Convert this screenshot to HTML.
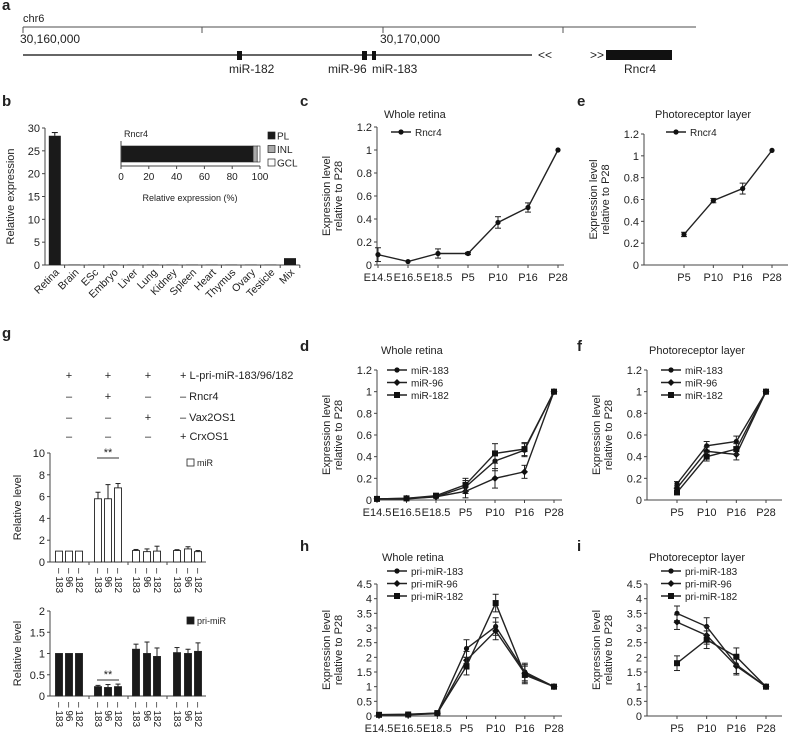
<!DOCTYPE html>
<html><head><meta charset="utf-8"><style>
body{margin:0;background:#fff}
svg{display:block;font-family:"Liberation Sans",Arial,sans-serif}
</style></head><body>
<svg id="fig" width="788" height="735" viewBox="0 0 788 735" xmlns="http://www.w3.org/2000/svg">
<g fill="#222" font-size="12">
<text x="2" y="10" font-size="15" font-weight="bold">a</text>
<text x="23" y="22" font-size="11">chr6</text>
<line x1="23" y1="27" x2="696" y2="27" stroke="#888" stroke-width="1.5"/>
<line x1="23" y1="27" x2="23" y2="33" stroke="#555"/><line x1="202" y1="27" x2="202" y2="33" stroke="#555"/>
<line x1="383" y1="27" x2="383" y2="33" stroke="#555"/><line x1="563" y1="27" x2="563" y2="33" stroke="#555"/>
<text x="20" y="43" font-size="12">30,160,000</text>
<text x="380" y="43" font-size="12">30,170,000</text>
<line x1="23" y1="55" x2="532" y2="55" stroke="#333" stroke-width="1.5"/>
<text x="538" y="59" font-size="12">&lt;&lt;</text>
<text x="590" y="59" font-size="12">&gt;&gt;</text>
<rect x="237" y="51" width="5" height="9" fill="#111"/>
<rect x="362" y="51" width="5" height="9" fill="#111"/>
<rect x="372" y="51" width="4" height="9" fill="#111"/>
<rect x="606" y="50" width="66" height="10" fill="#111"/>
<text x="229" y="73">miR-182</text>
<text x="328" y="73">miR-96</text>
<text x="372" y="73">miR-183</text>
<text x="624" y="73">Rncr4</text>
</g>
<g id="panels" fill="#222"></g>
</svg>
<script>
// ---------- data ----------
const bCats=["Retina","Brain","ESc","Embryo","Liver","Lung","Kidney","Spleen","Heart","Thymus","Ovary","Testicle","Mix"];
const bVals=[28.3,0.1,0.1,0.1,0.1,0.1,0.1,0.1,0.1,0.1,0.1,0.1,1.5];
const bErr=[0.7,0,0,0,0,0,0,0,0,0,0,0,0];
const bTicks=[0,5,10,15,20,25,30];
const insetLayers=["PL","INL","GCL"];
const insetVals=[95,3,2];
const insetTicks=[0,20,40,60,80,100];
const embTime=["E14.5","E16.5","E18.5","P5","P10","P16","P28"];
const postTime=["P5","P10","P16","P28"];
const ticks12=[0,0.2,0.4,0.6,0.8,1,1.2];
const ticks45=[0,0.5,1,1.5,2,2.5,3,3.5,4,4.5];
const cRncr4=[0.09,0.03,0.1,0.1,0.37,0.5,1.0];
const cRncr4Err=[0.06,0,0.04,0.01,0.05,0.04,0];
const eRncr4=[0.28,0.59,0.7,1.05];
const eRncr4Err=[0.02,0.02,0.05,0];
const dMir183=[0.01,0.01,0.03,0.12,0.36,0.46,1];
const dMir96=[0.01,0.015,0.03,0.08,0.2,0.26,1];
const dMir182=[0.01,0.015,0.04,0.14,0.43,0.47,1];
const dErr=[0.005,0.005,0.01,0.06,0.09,0.06,0];
const fMir183=[0.15,0.5,0.54,1];
const fMir96=[0.11,0.45,0.42,1];
const fMir182=[0.07,0.4,0.47,1];
const fErr=[0.02,0.04,0.05,0];
const hPri183=[0.05,0.06,0.1,2.3,3.05,1.5,1];
const hPri96=[0.03,0.04,0.08,1.9,2.9,1.45,1];
const hPri182=[0.04,0.05,0.1,1.7,3.85,1.4,1];
const hErr=[0.03,0.03,0.03,0.3,0.3,0.3,0];
const iPri183=[3.5,3.05,1.75,1];
const iPri96=[3.2,2.75,1.7,1];
const iPri182=[1.8,2.6,2.02,1];
const iErr=[0.25,0.3,0.3,0];
const gMiR=[1,1,1,5.8,5.8,6.8,1.05,0.95,1.0,1.05,1.2,0.95];
const gMiRErr=[0,0,0,0.6,1.3,0.4,0.1,0.25,0.45,0.08,0.2,0.1];
const gPri=[1,1,1,0.22,0.2,0.22,1.1,1.0,0.93,1.02,1.0,1.05];
const gPriErr=[0,0,0,0.03,0.07,0.06,0.12,0.27,0.2,0.12,0.1,0.2];
const gBarLabels=["183","96","182","183","96","182","183","96","182","183","96","182"];
const gTicksTop=[0,2,4,6,8,10];
const gTicksBot=[0,0.5,1,1.5,2];
const gRows=["L-pri-miR-183/96/182","Rncr4","Vax2OS1","CrxOS1"];
const gSigns=[["+","+","+","+"],["–","+","–","–"],["–","–","+","–"],["–","–","–","+"]];

// ---------- helpers ----------
const NS="http://www.w3.org/2000/svg";
const root=document.getElementById('panels');
function mk(tag,attrs,parent,txt){const e=document.createElementNS(NS,tag);for(const k in attrs)e.setAttribute(k,attrs[k]);if(txt!==undefined)e.textContent=txt;(parent||root).appendChild(e);return e;}
function grp(name){const g=mk('g',{});return g;}
function txt(g,x,y,s,size,anchor,name,extra){const t=mk('text',Object.assign({x:x,y:y,'font-size':size||11,'text-anchor':anchor||'start'},extra||{}),g,s);return t;}
function marker(g,x,y,type){
 if(type==='sq')mk('rect',{x:x-3,y:y-3,width:6,height:6,fill:'#111'},g);
 else if(type==='dia')mk('polygon',{points:`${x},${y-3.5} ${x+3.5},${y} ${x},${y+3.5} ${x-3.5},${y}`,fill:'#111'},g);
 else mk('circle',{cx:x,cy:y,r:2.6,fill:'#111'},g);
}
function lineChart(o){
 const g=grp(o.name);
 const sy=v=>o.y0-(v/o.ymax)*(o.y0-o.ytop);
 const sx=i=>o.x0+i*(o.x1-o.x0)/(o.cats.length-1);
 mk('line',{x1:o.ax,y1:o.ytop,x2:o.ax,y2:o.y0,stroke:'#444'},g);
 mk('line',{x1:o.ax,y1:o.y0,x2:o.axEnd,y2:o.y0,stroke:'#444'},g);
 o.ticks.forEach(t=>{mk('line',{x1:o.ax-3,y1:sy(t),x2:o.ax,y2:sy(t),stroke:'#444'},g);
  txt(g,o.ax-5,sy(t)+4,String(t),11,'end','y-tick-label');});
 o.cats.forEach((c,i)=>{mk('line',{x1:sx(i),y1:o.y0,x2:sx(i),y2:o.y0+3,stroke:'#444'},g);
  txt(g,sx(i),o.y0+16,c,11,'middle','x-tick-label');});
 const yl=mk('text',{x:0,y:0,'font-size':11,'text-anchor':'middle',transform:`translate(${o.ax-47},${(o.y0+o.ytop)/2}) rotate(-90)`},g);
 
 mk('tspan',{x:0,dy:0},yl,'Expression level');mk('tspan',{x:0,dy:12},yl,'relative to P28');
 txt(g,o.tx,o.ty,o.title,11,'start','chart-title');
 txt(g,o.px,o.py,o.letter,15,'start','panel-letter',{'font-weight':'bold'});
 o.series.forEach((s,k)=>{
  const sg=mk('g',{},g);
  const pts=s.vals.map((v,i)=>sx(i)+','+sy(v)).join(' ');
  mk('polyline',{points:pts,fill:'none',stroke:'#222','stroke-width':1.4},sg);
  s.vals.forEach((v,i)=>{const e=s.err[i];if(e>0){const a=sy(v+e),b=sy(v-e);
   mk('line',{x1:sx(i),y1:a,x2:sx(i),y2:b,stroke:'#222'},sg);
   mk('line',{x1:sx(i)-3,y1:a,x2:sx(i)+3,y2:a,stroke:'#222'},sg);
   mk('line',{x1:sx(i)-3,y1:b,x2:sx(i)+3,y2:b,stroke:'#222'},sg);}
   marker(sg,sx(i),sy(v),s.m);});
  const ly=o.ly+k*12.5;
  const lg=mk('g',{},g);
  mk('line',{x1:o.lx,y1:ly,x2:o.lx+20,y2:ly,stroke:'#222','stroke-width':1.4},lg);marker(lg,o.lx+10,ly,s.m);
  txt(lg,o.lx+24,ly+4,s.label,10,'start','legend-label');
 });
}
lineChart({name:'panel-c',letter:'c',px:300,py:106,cats:embTime,ax:377,axEnd:564,x0:378,x1:558,y0:265,ytop:127,ymax:1.2,ticks:ticks12,title:'Whole retina',tx:384,ty:118,lx:391,ly:132,
 series:[{label:'Rncr4',vals:cRncr4,err:cRncr4Err,m:'dot'}]});
lineChart({name:'panel-e',letter:'e',px:577,py:106,cats:postTime,ax:644,axEnd:788,x0:684,x1:772,y0:265,ytop:134,ymax:1.2,ticks:ticks12,title:'Photoreceptor layer',tx:655,ty:118,lx:666,ly:132,
 series:[{label:'Rncr4',vals:eRncr4,err:eRncr4Err,m:'dot'}]});
lineChart({name:'panel-d',letter:'d',px:300,py:351,cats:embTime,ax:377,axEnd:562,x0:377,x1:554,y0:500,ytop:370,ymax:1.2,ticks:ticks12,title:'Whole retina',tx:381,ty:354,lx:387,ly:370,
 series:[{label:'miR-183',vals:dMir183,err:dErr,m:'dot'},{label:'miR-96',vals:dMir96,err:dErr,m:'dia'},{label:'miR-182',vals:dMir182,err:dErr,m:'sq'}]});
lineChart({name:'panel-f',letter:'f',px:577,py:351,cats:postTime,ax:647,axEnd:782,x0:677,x1:766,y0:500,ytop:370,ymax:1.2,ticks:ticks12,title:'Photoreceptor layer',tx:649,ty:354,lx:661,ly:370,
 series:[{label:'miR-183',vals:fMir183,err:fErr,m:'dot'},{label:'miR-96',vals:fMir96,err:fErr,m:'dia'},{label:'miR-182',vals:fMir182,err:fErr,m:'sq'}]});
lineChart({name:'panel-h',letter:'h',px:300,py:551,cats:embTime,ax:377,axEnd:562,x0:379,x1:554,y0:716,ytop:584,ymax:4.5,ticks:ticks45,title:'Whole retina',tx:382,ty:561,lx:387,ly:571,
 series:[{label:'pri-miR-183',vals:hPri183,err:hErr,m:'dot'},{label:'pri-miR-96',vals:hPri96,err:hErr,m:'dia'},{label:'pri-miR-182',vals:hPri182,err:hErr,m:'sq'}]});
lineChart({name:'panel-i',letter:'i',px:577,py:551,cats:postTime,ax:647,axEnd:782,x0:677,x1:766,y0:716,ytop:584,ymax:4.5,ticks:ticks45,title:'Photoreceptor layer',tx:649,ty:561,lx:661,ly:571,
 series:[{label:'pri-miR-183',vals:iPri183,err:iErr,m:'dot'},{label:'pri-miR-96',vals:iPri96,err:iErr,m:'dia'},{label:'pri-miR-182',vals:iPri182,err:iErr,m:'sq'}]});

// ---------- panel b ----------
(function(){
 const g=grp('panel-b');
 const ax=45,y0=265,ytop=128,ymax=30,step=19.6,bw=12;
 const sy=v=>y0-(v/ymax)*(y0-ytop);
 txt(g,2,106,'b',15,'start','panel-letter',{'font-weight':'bold'});
 mk('line',{x1:ax,y1:ytop,x2:ax,y2:y0,stroke:'#444'},g);
 mk('line',{x1:ax,y1:y0,x2:ax+step*bCats.length,y2:y0,stroke:'#444'},g);
 bTicks.forEach(t=>{mk('line',{x1:ax-3,y1:sy(t),x2:ax,y2:sy(t),stroke:'#444'},g);txt(g,ax-5,sy(t)+4,String(t),11,'end','y-tick-label');});
 txt(g,0,0,'Relative expression',11,'middle','y-axis-title',{transform:`translate(14,${(y0+ytop)/2}) rotate(-90)`});
 bCats.forEach((c,i)=>{const cx=ax+step*(i+0.5);
  mk('line',{x1:ax+step*(i+1),y1:y0,x2:ax+step*(i+1),y2:y0+3,stroke:'#444'},g);
  const r=mk('rect',{x:cx-bw/2,y:sy(bVals[i]),width:bw,height:y0-sy(bVals[i]),fill:'#1a1a1a'},g);
  
  if(bErr[i]>0){const a=sy(bVals[i]+bErr[i]);mk('line',{x1:cx,y1:a,x2:cx,y2:sy(bVals[i]),stroke:'#111'},g);mk('line',{x1:cx-3,y1:a,x2:cx+3,y2:a,stroke:'#111'},g);}
  txt(g,0,0,c,10.5,'end','x-tick-label',{transform:`translate(${cx+5},${y0+8}) rotate(-45)`});
 });
 const ix0=121,ix1=260,iy=146,ih=16;const sx=v=>ix0+v/100*(ix1-ix0);
 txt(g,124,137,'Rncr4',9,'start','inset-title');
 let acc=0;const fills=['#1a1a1a','#aaa','#fff'];
 insetVals.forEach((v,i)=>{const r=mk('rect',{x:sx(acc),y:iy,width:sx(acc+v)-sx(acc),height:ih,fill:fills[i],stroke:'#222','stroke-width':0.6},g);
  acc+=v;});
 mk('line',{x1:ix0,y1:iy-5,x2:ix0,y2:iy+ih+4,stroke:'#444'},g);
 mk('line',{x1:ix0,y1:iy+ih+4,x2:ix1,y2:iy+ih+4,stroke:'#444'},g);
 insetTicks.forEach(t=>{mk('line',{x1:sx(t),y1:iy+ih+4,x2:sx(t),y2:iy+ih+7,stroke:'#444'},g);txt(g,sx(t),iy+ih+18,String(t),10,'middle','inset-tick-label');});
 txt(g,190,201,'Relative expression (%)',9,'middle','inset-x-title');
 insetLayers.forEach((l,i)=>{const y=132+i*13.5;const lg=mk('g',{},g);
  mk('rect',{x:268,y:y,width:7,height:7,fill:fills[i],stroke:'#222','stroke-width':0.7},lg);txt(lg,277,y+7.5,l,10,'start','legend-label');});
})();

// ---------- panel g ----------
(function(){
 const g=grp('panel-g');
 txt(g,2,338,'g',15,'start','panel-letter',{'font-weight':'bold'});
 const colX=[69,108,148];const rowY=[379,400,421,440];
 gRows.forEach((r,ri)=>{gSigns[ri].slice(0,3).forEach((s,ci)=>txt(g,colX[ci],rowY[ri],s,11,'middle','condition-sign'));
  txt(g,180,rowY[ri],gSigns[ri][3]+' '+r,11,'start','condition-label');});
 const centers=[59,69,79,98,108,118,136,147,157,177,188,198];
 function bars(vals,errs,y0,ytop,ymax,ticks,fill,legend,name,sigY){
  const bg=grp(name);
  const sy=v=>y0-(v/ymax)*(y0-ytop);
  mk('line',{x1:50,y1:ytop,x2:50,y2:y0,stroke:'#444'},bg);
  mk('line',{x1:50,y1:y0,x2:206,y2:y0,stroke:'#444'},bg);
  [89,128,167].forEach(x=>mk('line',{x1:x,y1:y0,x2:x,y2:y0+3,stroke:'#444'},bg));
  ticks.forEach(t=>{mk('line',{x1:47,y1:sy(t),x2:50,y2:sy(t),stroke:'#444'},bg);txt(bg,45,sy(t)+4,String(t),11,'end','y-tick-label');});
  txt(bg,0,0,'Relative level',11,'middle','y-axis-title',{transform:`translate(21,${(y0+ytop)/2}) rotate(-90)`});
  vals.forEach((v,i)=>{const cx=centers[i];
   const r=mk('rect',{x:cx-3.5,y:sy(v),width:7,height:y0-sy(v),fill:fill,stroke:'#222','stroke-width':0.9},bg);
   
   if(errs[i]>0){const a=sy(v+errs[i]);mk('line',{x1:cx,y1:a,x2:cx,y2:sy(v),stroke:'#222'},bg);mk('line',{x1:cx-2.5,y1:a,x2:cx+2.5,y2:a,stroke:'#222'},bg);}
   txt(bg,0,0,'– '+gBarLabels[i],10,'start','x-tick-label',{transform:`translate(${cx-3},${y0+6}) rotate(90)`});
  });
  mk('line',{x1:97,y1:sigY,x2:119,y2:sigY,stroke:'#333'},bg);
  txt(bg,108,sigY-2,'**',11,'middle','significance-mark');
  const lg=mk('g',{},bg);
  mk('rect',{x:187,y:ytop+6,width:7,height:7,fill:fill,stroke:'#222','stroke-width':0.8},lg);txt(lg,197,ytop+13,legend,9,'start','legend-label');
 }
 bars(gMiR,gMiRErr,562,453,10,gTicksTop,'#fff','miR','chart-mir',458);
 bars(gPri,gPriErr,696,611,2,gTicksBot,'#1a1a1a','pri-miR','chart-pri-mir',680);
})();
</script>
</body></html>
